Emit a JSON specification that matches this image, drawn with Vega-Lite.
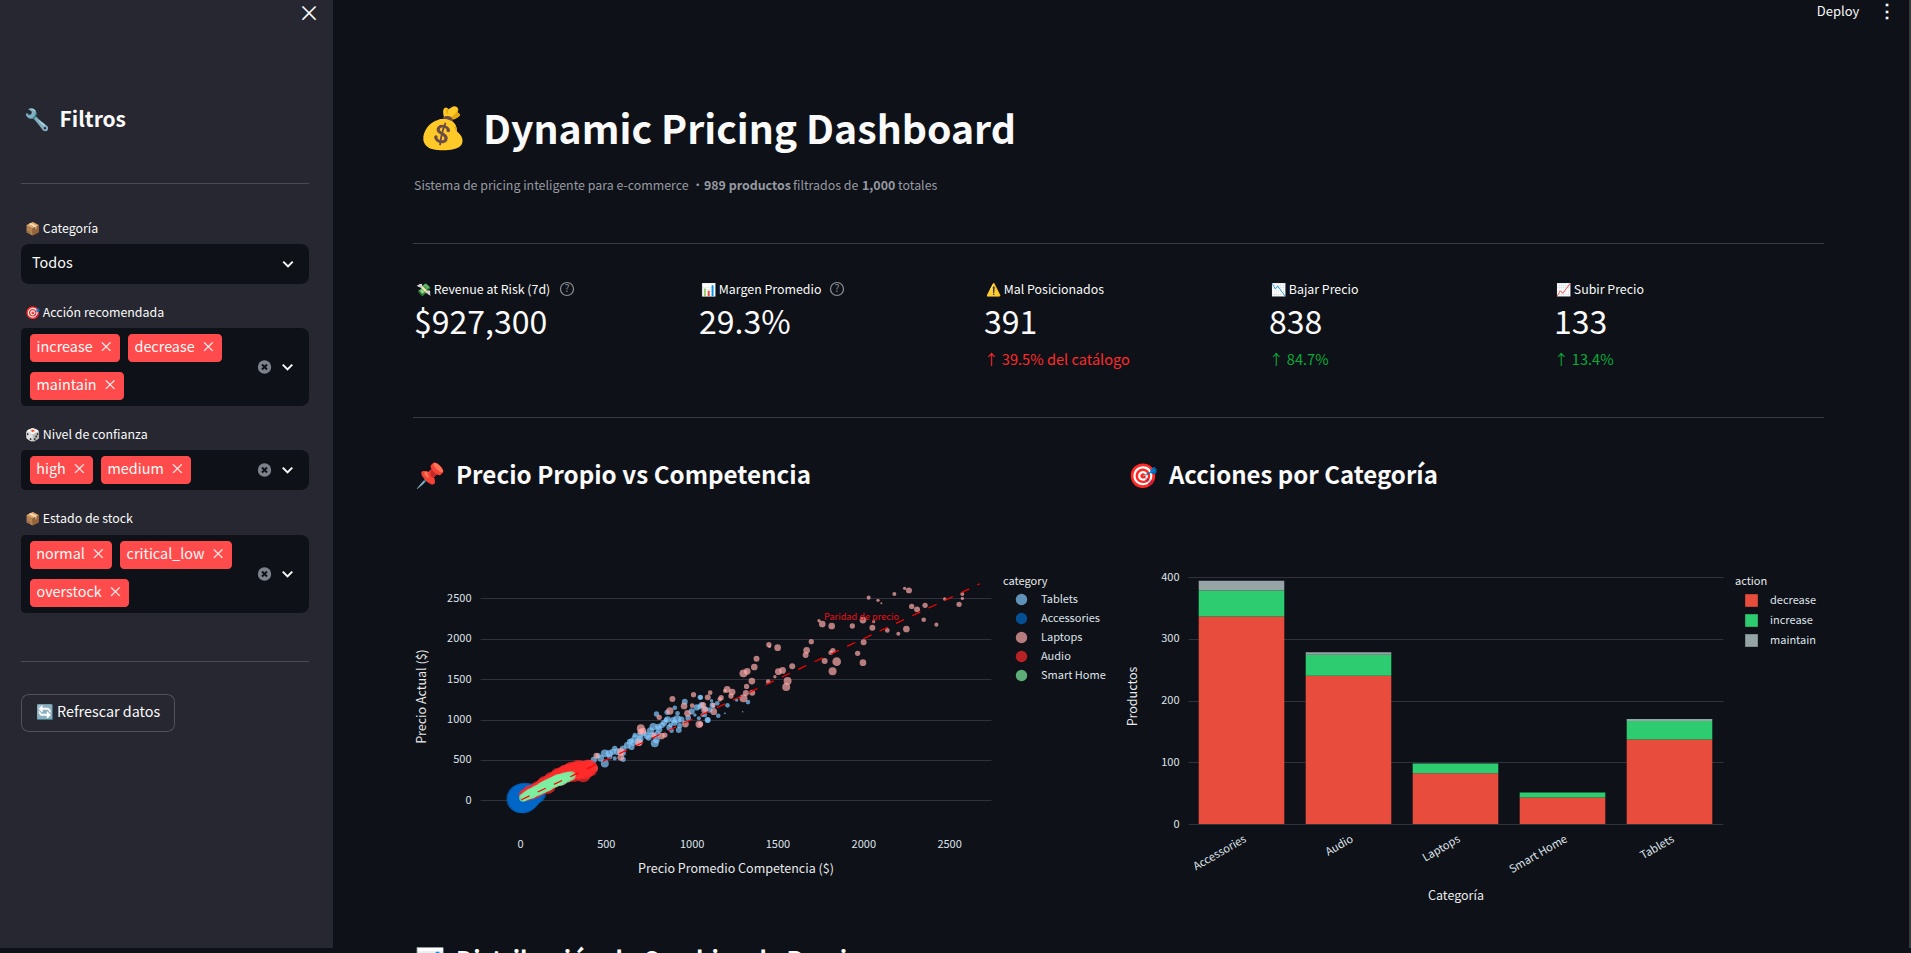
{
"$schema":"https://vega.github.io/schema/vega-lite/v6.json",
"background":"#0e1117",
"padding":0,
"config":{
"view":{"stroke":null,"fill":"#262730"},
"concat":{"spacing":0},
"text":{"font":"Noto Sans CJK SC","fontSize":12.4,"color":"#fafafa"},
"axis":{"labelFont":"Noto Sans CJK SC","titleFont":"Noto Sans CJK SC","labelFontSize":11,"titleFontSize":12.5,"labelColor":"#dfe3ea","titleColor":"#e8eaed","titleFontWeight":"normal","domain":false,"ticks":false,"gridColor":"#30323b","gridOpacity":1},
"legend":{"labelFont":"Noto Sans CJK SC","titleFont":"Noto Sans CJK SC","labelFontSize":11,"titleFontSize":11,"labelColor":"#dfe3ea","titleColor":"#e8eaed","titleFontWeight":"normal"}
},
"vconcat":[
{"hconcat":[
{"vconcat":[
{"hconcat":[
{"width":297,"height":28,"view":{"fill":"#262730"},"data":{"values":[]},"mark":"text"},
{"width":24,"height":28,"view":{"fill":"#262730"},"data":{"values":[{"t":"×"}]},"mark":{"type":"text","fontSize":22},"encoding":{"text":{"field":"t"}}},
{"width":12,"height":28,"view":{"fill":"#262730"},"data":{"values":[]},"mark":"text"}
]},
{"hconcat":[
{"width":21,"height":920,"view":{"fill":"#262730"},"data":{"values":[]},"mark":"text"},
{"vconcat":[
{"width":288,"height":72,"view":{"fill":"#262730"},"data":{"values":[]},"mark":"text"},
{"width":288,"height":40,"view":{"fill":"#262730"},"data":{"values":[{"t":"🔧\u00a0\u00a0Filtros"}]},"mark":{"type":"text","align":"left","dx":3,"dy":1,"fontSize":21,"fontWeight":"bold"},"encoding":{"text":{"field":"t"},"x":{"datum":0,"scale":{"domain":[0,1]},"axis":null}}},
{"width":288,"height":43,"view":{"fill":"#262730"},"data":{"values":[]},"mark":"text"},
{"width":288,"height":1,"view":{"fill":"#4a4b55"},"data":{"values":[]},"mark":"text"},
{"width":288,"height":34,"view":{"fill":"#262730"},"data":{"values":[]},"mark":"text"},
{"width":288,"height":20,"view":{"fill":"#262730"},"data":{"values":[{"t":"📦 Categoría"}]},"mark":{"type":"text","align":"left","dx":4,"dy":1},"encoding":{"text":{"field":"t"},"x":{"datum":0,"scale":{"domain":[0,1]},"axis":null}}},
{"width":288,"height":6,"view":{"fill":"#262730"},"data":{"values":[]},"mark":"text"},
{"width":288,"height":40,"view":{"fill":"#262730"},"data":{"values":[{"t":"Todos"}]},"layer":[
{"mark":{"type":"rect","fill":"#0e1117","cornerRadius":8}},
{"mark":{"type":"text","align":"left","dx":11,"fontSize":14.4},"encoding":{"text":{"field":"t"},"x":{"datum":0,"scale":{"domain":[0,1]},"axis":null}}},
{"mark":{"type":"point","shape":"M-1,-0.5L0,0.5L1,-0.5","filled":false,"stroke":"#fafafa","strokeWidth":2,"size":90,"opacity":1,"xOffset":-21},"encoding":{"x":{"datum":1,"scale":{"domain":[0,1]},"axis":null}}}
]},
{"width":288,"height":18,"view":{"fill":"#262730"},"data":{"values":[]},"mark":"text"},
{"width":288,"height":20,"view":{"fill":"#262730"},"data":{"values":[{"t":"🎯 Acción recomendada"}]},"mark":{"type":"text","align":"left","dx":4,"dy":1},"encoding":{"text":{"field":"t"},"x":{"datum":0,"scale":{"domain":[0,1]},"axis":null}}},
{"width":288,"height":6,"view":{"fill":"#262730"},"data":{"values":[]},"mark":"text"},
{"hconcat":[
{"width":9,"height":78,"view":{"fill":"#262730"},"data":{"values":[{"part":"box"}]},"mark":{"type":"rect","fill":"#0e1117","cornerRadiusTopLeft":8,"cornerRadiusBottomLeft":8}},
{"vconcat":[
{"width":216,"height":6,"view":{"fill":"#0e1117"},"data":{"values":[]},"mark":"text"},
{"hconcat":[
{"width":90,"height":28,"view":{"fill":"#0e1117"},"data":{"values":[{"t":"increase\u00a0\u00a0×"}]},"layer":[{"mark":{"type":"rect","fill":"#ff4b4b","cornerRadius":4}},{"mark":{"type":"text","fontSize":14.4},"encoding":{"text":{"field":"t"}}}]},
{"width":8,"height":28,"view":{"fill":"#0e1117"},"data":{"values":[]},"mark":"text"},
{"width":94,"height":28,"view":{"fill":"#0e1117"},"data":{"values":[{"t":"decrease\u00a0\u00a0×"}]},"layer":[{"mark":{"type":"rect","fill":"#ff4b4b","cornerRadius":4}},{"mark":{"type":"text","fontSize":14.4},"encoding":{"text":{"field":"t"}}}]},
{"width":24,"height":28,"view":{"fill":"#0e1117"},"data":{"values":[]},"mark":"text"}
]},
{"width":216,"height":10,"view":{"fill":"#0e1117"},"data":{"values":[]},"mark":"text"},
{"hconcat":[
{"width":94,"height":28,"view":{"fill":"#0e1117"},"data":{"values":[{"t":"maintain\u00a0\u00a0×"}]},"layer":[{"mark":{"type":"rect","fill":"#ff4b4b","cornerRadius":4}},{"mark":{"type":"text","fontSize":14.4},"encoding":{"text":{"field":"t"}}}]},
{"width":122,"height":28,"view":{"fill":"#0e1117"},"data":{"values":[]},"mark":"text"}
]},
{"width":216,"height":6,"view":{"fill":"#0e1117"},"data":{"values":[]},"mark":"text"}
]},
{"width":63,"height":78,"view":{"fill":"#262730"},"data":{"values":[{"part":"controls"}]},"layer":[
{"mark":{"type":"rect","fill":"#0e1117","cornerRadiusTopRight":8,"cornerRadiusBottomRight":8}},
{"mark":{"type":"circle","fill":"#7d818c","size":180,"opacity":1,"xOffset":-13}},
{"mark":{"type":"point","shape":"M-1,-1L1,1M-1,1L1,-1","filled":false,"stroke":"#0e1117","strokeWidth":2,"size":25,"opacity":1,"xOffset":-13}},
{"mark":{"type":"point","shape":"M-1,-0.5L0,0.5L1,-0.5","filled":false,"stroke":"#fafafa","strokeWidth":2,"size":90,"opacity":1,"xOffset":10}}
]}
]},
{"width":288,"height":18,"view":{"fill":"#262730"},"data":{"values":[]},"mark":"text"},
{"width":288,"height":20,"view":{"fill":"#262730"},"data":{"values":[{"t":"🎲 Nivel de confianza"}]},"mark":{"type":"text","align":"left","dx":4,"dy":1},"encoding":{"text":{"field":"t"},"x":{"datum":0,"scale":{"domain":[0,1]},"axis":null}}},
{"width":288,"height":6,"view":{"fill":"#262730"},"data":{"values":[]},"mark":"text"},
{"hconcat":[
{"width":9,"height":40,"view":{"fill":"#262730"},"data":{"values":[{"part":"box"}]},"mark":{"type":"rect","fill":"#0e1117","cornerRadiusTopLeft":8,"cornerRadiusBottomLeft":8}},
{"vconcat":[
{"width":216,"height":6,"view":{"fill":"#0e1117"},"data":{"values":[]},"mark":"text"},
{"hconcat":[
{"width":63,"height":28,"view":{"fill":"#0e1117"},"data":{"values":[{"t":"high\u00a0\u00a0×"}]},"layer":[{"mark":{"type":"rect","fill":"#ff4b4b","cornerRadius":4}},{"mark":{"type":"text","fontSize":14.4},"encoding":{"text":{"field":"t"}}}]},
{"width":8,"height":28,"view":{"fill":"#0e1117"},"data":{"values":[]},"mark":"text"},
{"width":90,"height":28,"view":{"fill":"#0e1117"},"data":{"values":[{"t":"medium\u00a0\u00a0×"}]},"layer":[{"mark":{"type":"rect","fill":"#ff4b4b","cornerRadius":4}},{"mark":{"type":"text","fontSize":14.4},"encoding":{"text":{"field":"t"}}}]},
{"width":55,"height":28,"view":{"fill":"#0e1117"},"data":{"values":[]},"mark":"text"}
]},
{"width":216,"height":6,"view":{"fill":"#0e1117"},"data":{"values":[]},"mark":"text"}
]},
{"width":63,"height":40,"view":{"fill":"#262730"},"data":{"values":[{"part":"controls"}]},"layer":[
{"mark":{"type":"rect","fill":"#0e1117","cornerRadiusTopRight":8,"cornerRadiusBottomRight":8}},
{"mark":{"type":"circle","fill":"#7d818c","size":180,"opacity":1,"xOffset":-13}},
{"mark":{"type":"point","shape":"M-1,-1L1,1M-1,1L1,-1","filled":false,"stroke":"#0e1117","strokeWidth":2,"size":25,"opacity":1,"xOffset":-13}},
{"mark":{"type":"point","shape":"M-1,-0.5L0,0.5L1,-0.5","filled":false,"stroke":"#fafafa","strokeWidth":2,"size":90,"opacity":1,"xOffset":10}}
]}
]},
{"width":288,"height":18,"view":{"fill":"#262730"},"data":{"values":[]},"mark":"text"},
{"width":288,"height":20,"view":{"fill":"#262730"},"data":{"values":[{"t":"📦 Estado de stock"}]},"mark":{"type":"text","align":"left","dx":4,"dy":1},"encoding":{"text":{"field":"t"},"x":{"datum":0,"scale":{"domain":[0,1]},"axis":null}}},
{"width":288,"height":7,"view":{"fill":"#262730"},"data":{"values":[]},"mark":"text"},
{"hconcat":[
{"width":9,"height":78,"view":{"fill":"#262730"},"data":{"values":[{"part":"box"}]},"mark":{"type":"rect","fill":"#0e1117","cornerRadiusTopLeft":8,"cornerRadiusBottomLeft":8}},
{"vconcat":[
{"width":216,"height":6,"view":{"fill":"#0e1117"},"data":{"values":[]},"mark":"text"},
{"hconcat":[
{"width":82,"height":28,"view":{"fill":"#0e1117"},"data":{"values":[{"t":"normal\u00a0\u00a0×"}]},"layer":[{"mark":{"type":"rect","fill":"#ff4b4b","cornerRadius":4}},{"mark":{"type":"text","fontSize":14.4},"encoding":{"text":{"field":"t"}}}]},
{"width":8,"height":28,"view":{"fill":"#0e1117"},"data":{"values":[]},"mark":"text"},
{"width":112,"height":28,"view":{"fill":"#0e1117"},"data":{"values":[{"t":"critical_low\u00a0\u00a0×"}]},"layer":[{"mark":{"type":"rect","fill":"#ff4b4b","cornerRadius":4}},{"mark":{"type":"text","fontSize":14.4},"encoding":{"text":{"field":"t"}}}]},
{"width":14,"height":28,"view":{"fill":"#0e1117"},"data":{"values":[]},"mark":"text"}
]},
{"width":216,"height":10,"view":{"fill":"#0e1117"},"data":{"values":[]},"mark":"text"},
{"hconcat":[
{"width":99,"height":28,"view":{"fill":"#0e1117"},"data":{"values":[{"t":"overstock\u00a0\u00a0×"}]},"layer":[{"mark":{"type":"rect","fill":"#ff4b4b","cornerRadius":4}},{"mark":{"type":"text","fontSize":14.4},"encoding":{"text":{"field":"t"}}}]},
{"width":117,"height":28,"view":{"fill":"#0e1117"},"data":{"values":[]},"mark":"text"}
]},
{"width":216,"height":6,"view":{"fill":"#0e1117"},"data":{"values":[]},"mark":"text"}
]},
{"width":63,"height":78,"view":{"fill":"#262730"},"data":{"values":[{"part":"controls"}]},"layer":[
{"mark":{"type":"rect","fill":"#0e1117","cornerRadiusTopRight":8,"cornerRadiusBottomRight":8}},
{"mark":{"type":"circle","fill":"#7d818c","size":180,"opacity":1,"xOffset":-13}},
{"mark":{"type":"point","shape":"M-1,-1L1,1M-1,1L1,-1","filled":false,"stroke":"#0e1117","strokeWidth":2,"size":25,"opacity":1,"xOffset":-13}},
{"mark":{"type":"point","shape":"M-1,-0.5L0,0.5L1,-0.5","filled":false,"stroke":"#fafafa","strokeWidth":2,"size":90,"opacity":1,"xOffset":10}}
]}
]},
{"width":288,"height":48,"view":{"fill":"#262730"},"data":{"values":[]},"mark":"text"},
{"width":288,"height":1,"view":{"fill":"#4a4b55"},"data":{"values":[]},"mark":"text"},
{"width":288,"height":32,"view":{"fill":"#262730"},"data":{"values":[]},"mark":"text"},
{"hconcat":[
{"width":154,"height":38,"view":{"fill":"#262730"},"data":{"values":[{"t":"🔄 Refrescar datos"}]},"layer":[
{"mark":{"type":"rect","fill":"#4f515b","cornerRadius":8}},
{"mark":{"type":"rect","fill":"#262730","cornerRadius":7},"encoding":{"x":{"datum":1,"scale":{"domain":[0,154]},"axis":null},"x2":{"datum":153},"y":{"datum":1,"scale":{"domain":[0,38]},"axis":null},"y2":{"datum":37}}},
{"mark":{"type":"text","fontSize":14.4},"encoding":{"text":{"field":"t"}}}
]},
{"width":134,"height":38,"view":{"fill":"#262730"},"data":{"values":[]},"mark":"text"}
]},
{"width":288,"height":216,"view":{"fill":"#262730"},"data":{"values":[]},"mark":"text"}
]},
{"width":24,"height":920,"view":{"fill":"#262730"},"data":{"values":[]},"mark":"text"}
]}
]},
{"width":80,"height":1,"view":{"fill":"#0e1117"},"data":{"values":[]},"mark":"text"},
{"vconcat":[
{"hconcat":[
{"width":1385,"height":24,"view":{"fill":"#0e1117"},"data":{"values":[]},"mark":"text"},
{"width":80,"height":24,"view":{"fill":"#0e1117"},"data":{"values":[{"t":"Deploy"}]},"mark":{"type":"text","fontSize":13},"encoding":{"text":{"field":"t"}}},
{"width":18,"height":24,"view":{"fill":"#0e1117"},"data":{"values":[{"t":"⋮"}]},"mark":{"type":"text","fontSize":18,"fontWeight":"bold"},"encoding":{"text":{"field":"t"}}},
{"width":13,"height":24,"view":{"fill":"#0e1117"},"data":{"values":[]},"mark":"text"}
]},
{"width":1411,"height":76,"view":{"fill":"#0e1117"},"data":{"values":[]},"mark":"text"},
{"hconcat":[
{"width":60,"height":60,"view":{"fill":"#0e1117"},"data":{"values":[{"t":"💰"}]},"mark":{"type":"text","fontSize":40},"encoding":{"text":{"field":"t"}}},
{"width":1351,"height":60,"view":{"fill":"#0e1117"},"data":{"values":[{"t":"Dynamic Pricing Dashboard"}]},"mark":{"type":"text","align":"left","dx":10,"dy":2,"fontSize":39.2,"fontWeight":"bold"},"encoding":{"text":{"field":"t"},"x":{"datum":0,"scale":{"domain":[0,1]},"axis":null}}}
]},
{"hconcat":[
{"width":288,"height":49,"view":{"fill":"#0e1117"},"data":{"values":[{"t":"Sistema de pricing inteligente para e-commerce •"}]},"mark":{"type":"text","align":"left","color":"#969aa2","dx":1,"dy":1},"encoding":{"text":{"field":"t"},"x":{"datum":0,"scale":{"domain":[0,1]},"axis":null}}},
{"width":89,"height":49,"view":{"fill":"#0e1117"},"data":{"values":[{"t":"989 productos"}]},"mark":{"type":"text","align":"left","color":"#969aa2","fontWeight":"bold","dy":1},"encoding":{"text":{"field":"t"},"x":{"datum":0,"scale":{"domain":[0,1]},"axis":null}}},
{"width":69,"height":49,"view":{"fill":"#0e1117"},"data":{"values":[{"t":"filtrados de"}]},"mark":{"type":"text","align":"left","color":"#969aa2","dy":1},"encoding":{"text":{"field":"t"},"x":{"datum":0,"scale":{"domain":[0,1]},"axis":null}}},
{"width":36,"height":49,"view":{"fill":"#0e1117"},"data":{"values":[{"t":"1,000"}]},"mark":{"type":"text","align":"left","color":"#969aa2","fontWeight":"bold","dy":1},"encoding":{"text":{"field":"t"},"x":{"datum":0,"scale":{"domain":[0,1]},"axis":null}}},
{"width":60,"height":49,"view":{"fill":"#0e1117"},"data":{"values":[{"t":"totales"}]},"mark":{"type":"text","align":"left","color":"#969aa2","dy":1},"encoding":{"text":{"field":"t"},"x":{"datum":0,"scale":{"domain":[0,1]},"axis":null}}}
]},
{"width":1411,"height":34,"view":{"fill":"#0e1117"},"data":{"values":[]},"mark":"text"},
{"width":1411,"height":1,"view":{"fill":"#3a3c42"},"data":{"values":[]},"mark":"text"},
{"width":1411,"height":35,"view":{"fill":"#0e1117"},"data":{"values":[]},"mark":"text"},
{"width":1425,"height":20,"view":{"fill":"#0e1117"},"encoding":{"x":{"field":"label","type":"nominal","sort":null,"bandPosition":0,"scale":{"type":"band","paddingInner":0,"paddingOuter":0},"axis":null}},"layer":[
{"data":{"name":"kpis"},"mark":{"type":"text","align":"left","dx":3,"dy":1},"encoding":{"text":{"field":"label"}}},
{"data":{"name":"kpis"},"transform":[{"filter":"datum.label === '💸 Revenue at Risk (7d)'"}],"mark":{"type":"circle","filled":false,"stroke":"#8c8f98","strokeWidth":1.2,"size":170,"xOffset":154,"opacity":1}},
{"data":{"name":"kpis"},"transform":[{"filter":"datum.label === '💸 Revenue at Risk (7d)'"}],"mark":{"type":"text","align":"center","dx":154,"fontSize":10.5,"color":"#8c8f98","text":"?"}},
{"data":{"name":"kpis"},"transform":[{"filter":"datum.label === '📊 Margen Promedio'"}],"mark":{"type":"circle","filled":false,"stroke":"#8c8f98","strokeWidth":1.2,"size":170,"xOffset":139,"opacity":1}},
{"data":{"name":"kpis"},"transform":[{"filter":"datum.label === '📊 Margen Promedio'"}],"mark":{"type":"text","align":"center","dx":139,"fontSize":10.5,"color":"#8c8f98","text":"?"}}
]},
{"width":1425,"height":48,"view":{"fill":"#0e1117"},"data":{"name":"kpis"},"mark":{"type":"text","align":"left","fontSize":32,"dx":1,"dy":1},"encoding":{"text":{"field":"value"},"x":{"field":"label","type":"nominal","sort":null,"bandPosition":0,"scale":{"type":"band","paddingInner":0,"paddingOuter":0},"axis":null}}},
{"width":1425,"height":24,"view":{"fill":"#0e1117"},"data":{"name":"kpis"},"mark":{"type":"text","align":"left","fontSize":14.6,"dx":1,"dy":2},"encoding":{"text":{"field":"delta"},"color":{"condition":{"test":"datum.tone === 'alerta'","value":"#ff2b2b"},"value":"#09ab3b"},"x":{"field":"label","type":"nominal","sort":null,"bandPosition":0,"scale":{"type":"band","paddingInner":0,"paddingOuter":0},"axis":null}}},
{"width":1411,"height":46,"view":{"fill":"#0e1117"},"data":{"values":[]},"mark":"text"},
{"width":1411,"height":1,"view":{"fill":"#3a3c42"},"data":{"values":[]},"mark":"text"},
{"width":1411,"height":37,"view":{"fill":"#0e1117"},"data":{"values":[]},"mark":"text"},
{"hconcat":[
{"width":713,"height":40,"view":{"fill":"#0e1117"},"data":{"values":[{"t":"📌\u00a0\u00a0Precio Propio vs Competencia"}]},"mark":{"type":"text","align":"left","dx":2,"dy":2,"fontSize":24.2,"fontWeight":"bold"},"encoding":{"text":{"field":"t"},"x":{"datum":0,"scale":{"domain":[0,1]},"axis":null}}},
{"width":698,"height":40,"view":{"fill":"#0e1117"},"data":{"values":[{"t":"🎯\u00a0\u00a0Acciones por Categoría"}]},"mark":{"type":"text","align":"left","dx":2,"dy":2,"fontSize":24,"fontWeight":"bold"},"encoding":{"text":{"field":"t"},"x":{"datum":0,"scale":{"domain":[0,1]},"axis":null}}}
]},
{"width":1411,"height":73,"view":{"fill":"#0e1117"},"data":{"values":[]},"mark":"text"},
{"hconcat":[
{"width":2,"height":1,"view":{"fill":"#0e1117"},"data":{"values":[]},"mark":"text"},
{"hconcat":[
{"width":511,"height":256,"view":{"fill":"#0e1117"},
"encoding":{
"x":{"field":"competencia","type":"quantitative","title":"Precio Promedio Competencia ($)","scale":{"domain":[-233,2744],"nice":false},"axis":{"values":[0,500,1000,1500,2000,2500],"format":"d","grid":false,"labelPadding":14,"titlePadding":13}},
"y":{"field":"precio","type":"quantitative","title":"Precio Actual ($)","scale":{"domain":[-293,2875],"nice":false},"axis":{"values":[0,500,1000,1500,2000,2500],"format":"d","labelPadding":9,"titlePadding":18}}
},
"layer":[
{"data":{"values":[
{"category":"Tablets","competencia":1328,"precio":1216,"bubble":17},{"category":"Tablets","competencia":1262,"precio":1241,"bubble":9},{"category":"Tablets","competencia":1209,"precio":1175,"bubble":17},{"category":"Tablets","competencia":1155,"precio":1047,"bubble":17},{"category":"Tablets","competencia":1194,"precio":1076,"bubble":3},{"category":"Tablets","competencia":1297,"precio":1097,"bubble":2},{"category":"Tablets","competencia":1094,"precio":994,"bubble":22},{"category":"Tablets","competencia":1063,"precio":1056,"bubble":13},{"category":"Tablets","competencia":1149,"precio":1200,"bubble":17},{"category":"Tablets","competencia":1116,"precio":1233,"bubble":9},{"category":"Tablets","competencia":1052,"precio":1274,"bubble":17},{"category":"Tablets","competencia":1048,"precio":1159,"bubble":22},
{"category":"Tablets","competencia":960,"precio":1221,"bubble":28},{"category":"Tablets","competencia":902,"precio":1146,"bubble":17},{"category":"Tablets","competencia":795,"precio":1068,"bubble":22},{"category":"Tablets","competencia":857,"precio":1089,"bubble":22},{"category":"Tablets","competencia":918,"precio":1076,"bubble":17},{"category":"Tablets","competencia":916,"precio":1002,"bubble":50},{"category":"Tablets","competencia":892,"precio":994,"bubble":28},{"category":"Tablets","competencia":850,"precio":994,"bubble":17},{"category":"Tablets","competencia":828,"precio":932,"bubble":28},{"category":"Tablets","competencia":776,"precio":911,"bubble":42},{"category":"Tablets","competencia":805,"precio":911,"bubble":28},{"category":"Tablets","competencia":877,"precio":932,"bubble":17},{"category":"Tablets","competencia":931,"precio":924,"bubble":22},{"category":"Tablets","competencia":925,"precio":870,"bubble":28},{"category":"Tablets","competencia":883,"precio":862,"bubble":17},{"category":"Tablets","competencia":785,"precio":705,"bubble":50},{"category":"Tablets","competencia":795,"precio":746,"bubble":35},{"category":"Tablets","competencia":772,"precio":808,"bubble":28},{"category":"Tablets","competencia":669,"precio":767,"bubble":35},{"category":"Tablets","competencia":649,"precio":734,"bubble":22},{"category":"Tablets","competencia":698,"precio":808,"bubble":28},{"category":"Tablets","competencia":659,"precio":705,"bubble":22},{"category":"Tablets","competencia":1050,"precio":1274,"bubble":22},{"category":"Tablets","competencia":1058,"precio":1180,"bubble":28},{"category":"Tablets","competencia":1093,"precio":994,"bubble":28},{"category":"Tablets","competencia":1042,"precio":1015,"bubble":13},{"category":"Tablets","competencia":1019,"precio":1056,"bubble":9},{"category":"Tablets","competencia":1106,"precio":1118,"bubble":22},{"category":"Tablets","competencia":1077,"precio":1056,"bubble":17},{"category":"Tablets","competencia":1126,"precio":1159,"bubble":13},
{"category":"Tablets","competencia":640,"precio":726,"bubble":28},{"category":"Tablets","competencia":669,"precio":808,"bubble":17},{"category":"Tablets","competencia":552,"precio":643,"bubble":22},{"category":"Tablets","competencia":494,"precio":581,"bubble":50},{"category":"Tablets","competencia":455,"precio":552,"bubble":22},{"category":"Tablets","competencia":523,"precio":540,"bubble":22},{"category":"Tablets","competencia":494,"precio":457,"bubble":50},{"category":"Tablets","competencia":406,"precio":457,"bubble":35},{"category":"Tablets","competencia":368,"precio":457,"bubble":17},{"category":"Tablets","competencia":601,"precio":507,"bubble":22},{"category":"Tablets","competencia":552,"precio":519,"bubble":13},{"category":"Tablets","competencia":568,"precio":602,"bubble":35},{"category":"Tablets","competencia":692,"precio":726,"bubble":50},
{"category":"Tablets","competencia":520,"precio":580,"bubble":40},{"category":"Tablets","competencia":540,"precio":600,"bubble":30},{"category":"Tablets","competencia":600,"precio":640,"bubble":30},{"category":"Tablets","competencia":625,"precio":680,"bubble":35},{"category":"Tablets","competencia":720,"precio":830,"bubble":30},{"category":"Tablets","competencia":740,"precio":800,"bubble":35},{"category":"Tablets","competencia":760,"precio":860,"bubble":40},{"category":"Tablets","competencia":810,"precio":880,"bubble":35},{"category":"Tablets","competencia":840,"precio":960,"bubble":30},{"category":"Tablets","competencia":860,"precio":1000,"bubble":35},{"category":"Tablets","competencia":900,"precio":960,"bubble":30},{"category":"Tablets","competencia":940,"precio":1000,"bubble":30},{"category":"Tablets","competencia":980,"precio":1020,"bubble":25},{"category":"Tablets","competencia":1000,"precio":1100,"bubble":30},{"category":"Tablets","competencia":1030,"precio":1150,"bubble":30},{"category":"Tablets","competencia":1080,"precio":1130,"bubble":25},{"category":"Tablets","competencia":1120,"precio":1180,"bubble":22},{"category":"Tablets","competencia":470,"precio":520,"bubble":35},{"category":"Tablets","competencia":430,"precio":500,"bubble":30},{"category":"Tablets","competencia":600,"precio":585,"bubble":28},{"category":"Tablets","competencia":650,"precio":660,"bubble":30},{"category":"Tablets","competencia":700,"precio":760,"bubble":35},{"category":"Tablets","competencia":750,"precio":775,"bubble":28},{"category":"Tablets","competencia":800,"precio":820,"bubble":32},{"category":"Tablets","competencia":870,"precio":900,"bubble":30},
{"category":"Accessories","competencia":4,"precio":20,"bubble":645},{"category":"Accessories","competencia":24,"precio":45,"bubble":616},{"category":"Accessories","competencia":57,"precio":66,"bubble":428},{"category":"Accessories","competencia":95,"precio":86,"bubble":314},{"category":"Accessories","competencia":47,"precio":24,"bubble":428},{"category":"Accessories","competencia":8,"precio":15,"bubble":600},{"category":"Accessories","competencia":14,"precio":30,"bubble":620},{"category":"Accessories","competencia":30,"precio":25,"bubble":560},{"category":"Accessories","competencia":40,"precio":50,"bubble":520},{"category":"Accessories","competencia":20,"precio":10,"bubble":600},{"category":"Accessories","competencia":66,"precio":60,"bubble":380},{"category":"Accessories","competencia":80,"precio":75,"bubble":340},{"category":"Accessories","competencia":35,"precio":35,"bubble":560},
{"category":"Laptops","competencia":2266,"precio":2598,"bubble":28},{"category":"Laptops","competencia":2241,"precio":2623,"bubble":9},{"category":"Laptops","competencia":2181,"precio":2553,"bubble":13},{"category":"Laptops","competencia":2031,"precio":2508,"bubble":13},{"category":"Laptops","competencia":2086,"precio":2475,"bubble":9},{"category":"Laptops","competencia":2105,"precio":2438,"bubble":3},{"category":"Laptops","competencia":2282,"precio":2400,"bubble":22},{"category":"Laptops","competencia":2313,"precio":2363,"bubble":28},{"category":"Laptops","competencia":2360,"precio":2413,"bubble":22},{"category":"Laptops","competencia":2474,"precio":2491,"bubble":9},{"category":"Laptops","competencia":2577,"precio":2553,"bubble":13},{"category":"Laptops","competencia":2577,"precio":2499,"bubble":9},{"category":"Laptops","competencia":2558,"precio":2425,"bubble":22},{"category":"Laptops","competencia":2352,"precio":2235,"bubble":17},{"category":"Laptops","competencia":2426,"precio":2174,"bubble":13},{"category":"Laptops","competencia":2251,"precio":2120,"bubble":35},{"category":"Laptops","competencia":2204,"precio":2062,"bubble":13},{"category":"Laptops","competencia":2140,"precio":2103,"bubble":17},{"category":"Laptops","competencia":2053,"precio":2136,"bubble":28},{"category":"Laptops","competencia":2060,"precio":2211,"bubble":9},{"category":"Laptops","competencia":1998,"precio":2231,"bubble":35},{"category":"Laptops","competencia":1936,"precio":2157,"bubble":22},{"category":"Laptops","competencia":1816,"precio":2157,"bubble":35},{"category":"Laptops","competencia":1761,"precio":2182,"bubble":35},{"category":"Laptops","competencia":1742,"precio":2223,"bubble":9},{"category":"Laptops","competencia":1697,"precio":1963,"bubble":22},{"category":"Laptops","competencia":2002,"precio":1955,"bubble":28},{"category":"Laptops","competencia":1967,"precio":1819,"bubble":22},{"category":"Laptops","competencia":1998,"precio":1703,"bubble":35},{"category":"Laptops","competencia":1845,"precio":1716,"bubble":59},{"category":"Laptops","competencia":1821,"precio":1596,"bubble":50},{"category":"Laptops","competencia":1775,"precio":1724,"bubble":28},{"category":"Laptops","competencia":1823,"precio":1852,"bubble":22},{"category":"Laptops","competencia":1810,"precio":1827,"bubble":17},{"category":"Laptops","competencia":1670,"precio":1856,"bubble":35},{"category":"Laptops","competencia":1664,"precio":1798,"bubble":28},{"category":"Laptops","competencia":1586,"precio":1658,"bubble":28},{"category":"Laptops","competencia":1530,"precio":1608,"bubble":35},{"category":"Laptops","competencia":1505,"precio":1592,"bubble":35},{"category":"Laptops","competencia":1485,"precio":1530,"bubble":9},{"category":"Laptops","competencia":1450,"precio":1926,"bubble":22},{"category":"Laptops","competencia":1454,"precio":1901,"bubble":6},{"category":"Laptops","competencia":1501,"precio":1889,"bubble":35},{"category":"Laptops","competencia":1378,"precio":1753,"bubble":28},{"category":"Laptops","competencia":1365,"precio":1650,"bubble":35},{"category":"Laptops","competencia":1324,"precio":1596,"bubble":35},{"category":"Laptops","competencia":1302,"precio":1571,"bubble":50},{"category":"Laptops","competencia":1351,"precio":1476,"bubble":35},{"category":"Laptops","competencia":1559,"precio":1476,"bubble":50},{"category":"Laptops","competencia":1551,"precio":1402,"bubble":50},{"category":"Laptops","competencia":1446,"precio":1468,"bubble":17},{"category":"Laptops","competencia":1320,"precio":1410,"bubble":22},{"category":"Laptops","competencia":1353,"precio":1332,"bubble":28},{"category":"Laptops","competencia":1316,"precio":1328,"bubble":28},{"category":"Laptops","competencia":1302,"precio":1262,"bubble":50},{"category":"Laptops","competencia":1236,"precio":1340,"bubble":35},{"category":"Laptops","competencia":1207,"precio":1373,"bubble":35},{"category":"Laptops","competencia":1194,"precio":1353,"bubble":13},{"category":"Laptops","competencia":1229,"precio":1291,"bubble":22},{"category":"Laptops","competencia":1172,"precio":1270,"bubble":22},{"category":"Laptops","competencia":1164,"precio":1250,"bubble":17},{"category":"Laptops","competencia":1108,"precio":1332,"bubble":17},{"category":"Laptops","competencia":1094,"precio":1274,"bubble":28},{"category":"Laptops","competencia":1129,"precio":1097,"bubble":35},{"category":"Laptops","competencia":1126,"precio":1179,"bubble":17},{"category":"Laptops","competencia":1067,"precio":1179,"bubble":28},{"category":"Laptops","competencia":1075,"precio":1118,"bubble":35},{"category":"Laptops","competencia":1052,"precio":944,"bubble":22},
{"category":"Laptops","competencia":888,"precio":1254,"bubble":28},{"category":"Laptops","competencia":1011,"precio":1307,"bubble":22},{"category":"Laptops","competencia":956,"precio":1167,"bubble":35},{"category":"Laptops","competencia":1003,"precio":1171,"bubble":17},{"category":"Laptops","competencia":873,"precio":1105,"bubble":42},{"category":"Laptops","competencia":976,"precio":1076,"bubble":35},{"category":"Laptops","competencia":1044,"precio":940,"bubble":42},{"category":"Laptops","competencia":964,"precio":944,"bubble":35},{"category":"Laptops","competencia":811,"precio":1027,"bubble":22},{"category":"Laptops","competencia":704,"precio":891,"bubble":50},{"category":"Laptops","competencia":717,"precio":858,"bubble":35},{"category":"Laptops","competencia":692,"precio":713,"bubble":35},{"category":"Laptops","competencia":780,"precio":804,"bubble":22},{"category":"Laptops","competencia":824,"precio":796,"bubble":35},{"category":"Laptops","competencia":844,"precio":808,"bubble":22},{"category":"Laptops","competencia":587,"precio":602,"bubble":42},{"category":"Laptops","competencia":587,"precio":532,"bubble":35},{"category":"Laptops","competencia":445,"precio":552,"bubble":28},{"category":"Laptops","competencia":702,"precio":849,"bubble":28},{"category":"Laptops","competencia":436,"precio":396,"bubble":28},
{"category":"Audio","competencia":27,"precio":66,"bubble":113},{"category":"Audio","competencia":57,"precio":107,"bubble":140},{"category":"Audio","competencia":105,"precio":148,"bubble":169},{"category":"Audio","competencia":144,"precio":210,"bubble":169},{"category":"Audio","competencia":183,"precio":251,"bubble":201},{"category":"Audio","competencia":222,"precio":313,"bubble":169},{"category":"Audio","competencia":261,"precio":334,"bubble":218},{"category":"Audio","competencia":300,"precio":375,"bubble":218},{"category":"Audio","competencia":338,"precio":383,"bubble":274},{"category":"Audio","competencia":377,"precio":375,"bubble":274},{"category":"Audio","competencia":406,"precio":396,"bubble":218},{"category":"Audio","competencia":319,"precio":334,"bubble":218},{"category":"Audio","competencia":241,"precio":272,"bubble":169},{"category":"Audio","competencia":163,"precio":169,"bubble":169},{"category":"Audio","competencia":86,"precio":107,"bubble":140},{"category":"Audio","competencia":290,"precio":313,"bubble":169},{"category":"Audio","competencia":368,"precio":313,"bubble":169},
{"category":"Audio","competencia":40,"precio":70,"bubble":130},{"category":"Audio","competencia":70,"precio":95,"bubble":150},{"category":"Audio","competencia":95,"precio":125,"bubble":160},{"category":"Audio","competencia":120,"precio":150,"bubble":170},{"category":"Audio","competencia":135,"precio":185,"bubble":170},{"category":"Audio","competencia":155,"precio":195,"bubble":180},{"category":"Audio","competencia":175,"precio":225,"bubble":190},{"category":"Audio","competencia":200,"precio":250,"bubble":190},{"category":"Audio","competencia":215,"precio":280,"bubble":195},{"category":"Audio","competencia":235,"precio":295,"bubble":200},{"category":"Audio","competencia":250,"precio":315,"bubble":205},{"category":"Audio","competencia":270,"precio":340,"bubble":215},{"category":"Audio","competencia":285,"precio":350,"bubble":215},{"category":"Audio","competencia":310,"precio":360,"bubble":225},{"category":"Audio","competencia":330,"precio":370,"bubble":250},{"category":"Audio","competencia":350,"precio":380,"bubble":265},{"category":"Audio","competencia":395,"precio":400,"bubble":230},
{"category":"Smart Home","competencia":18,"precio":33,"bubble":50},{"category":"Smart Home","competencia":47,"precio":66,"bubble":68},{"category":"Smart Home","competencia":86,"precio":107,"bubble":79},{"category":"Smart Home","competencia":125,"precio":148,"bubble":101},{"category":"Smart Home","competencia":163,"precio":189,"bubble":113},{"category":"Smart Home","competencia":202,"precio":231,"bubble":101},{"category":"Smart Home","competencia":241,"precio":259,"bubble":113},{"category":"Smart Home","competencia":270,"precio":284,"bubble":89},{"category":"Smart Home","competencia":300,"precio":305,"bubble":59},{"category":"Smart Home","competencia":66,"precio":86,"bubble":89},{"category":"Smart Home","competencia":144,"precio":177,"bubble":89},{"category":"Smart Home","competencia":222,"precio":251,"bubble":113},
{"category":"Smart Home","competencia":25,"precio":40,"bubble":55},{"category":"Smart Home","competencia":35,"precio":55,"bubble":65},{"category":"Smart Home","competencia":55,"precio":75,"bubble":75},{"category":"Smart Home","competencia":75,"precio":95,"bubble":85},{"category":"Smart Home","competencia":95,"precio":120,"bubble":90},{"category":"Smart Home","competencia":110,"precio":130,"bubble":95},{"category":"Smart Home","competencia":135,"precio":160,"bubble":105},{"category":"Smart Home","competencia":155,"precio":180,"bubble":110},{"category":"Smart Home","competencia":175,"precio":205,"bubble":105},{"category":"Smart Home","competencia":190,"precio":220,"bubble":105},{"category":"Smart Home","competencia":210,"precio":240,"bubble":105},{"category":"Smart Home","competencia":230,"precio":250,"bubble":105},{"category":"Smart Home","competencia":255,"precio":275,"bubble":95},{"category":"Smart Home","competencia":285,"precio":295,"bubble":75}
]},
"mark":{"type":"circle","opacity":0.7},
"encoding":{
"color":{"field":"category","type":"nominal","scale":{"domain":["Tablets","Accessories","Laptops","Audio","Smart Home"],"range":["#83c9ff","#0068c9","#ffabab","#ff2b2b","#7defa1"]},"legend":{"title":"category","orient":"right","offset":4,"padding":8,"symbolType":"circle","symbolSize":130,"symbolOffset":12,"labelOffset":13,"rowPadding":6,"titlePadding":6}},
"size":{"field":"bubble","type":"quantitative","scale":{"domain":[0,700],"range":[0,892]},"legend":null}
}},
{"data":{"values":[{"competencia":8,"precio":8},{"competencia":2680,"precio":2680}]},"mark":{"type":"line","color":"#ff0000","strokeWidth":1.2,"strokeDash":[9,9]}},
{"data":{"values":[{"competencia":1990,"precio":2272,"nota":"Paridad de precio"}]},"mark":{"type":"text","fontSize":9.2,"color":"#e8101a"},"encoding":{"text":{"field":"nota"}}}
]},
{"width":535,"height":256,"view":{"fill":"#0e1117"},
"data":{"values":[
{"categoria":"Accessories","action":"decrease","productos":336},{"categoria":"Accessories","action":"increase","productos":42},{"categoria":"Accessories","action":"maintain","productos":16},
{"categoria":"Audio","action":"decrease","productos":240},{"categoria":"Audio","action":"increase","productos":34},{"categoria":"Audio","action":"maintain","productos":4},
{"categoria":"Laptops","action":"decrease","productos":82},{"categoria":"Laptops","action":"increase","productos":16},
{"categoria":"Smart Home","action":"decrease","productos":43},{"categoria":"Smart Home","action":"increase","productos":8},
{"categoria":"Tablets","action":"decrease","productos":137},{"categoria":"Tablets","action":"increase","productos":30},{"categoria":"Tablets","action":"maintain","productos":3}
]},
"mark":"bar",
"encoding":{
"x":{"field":"categoria","type":"nominal","title":"Categoría","scale":{"paddingInner":0.2,"paddingOuter":0.1},"axis":{"labelAngle":-30,"labelAlign":"right","labelBaseline":"middle","labelPadding":14,"labelOffset":4,"titlePadding":15,"grid":false}},
"y":{"field":"productos","type":"quantitative","aggregate":"sum","title":"Productos","scale":{"domain":[0,414.6],"nice":false},"axis":{"values":[0,100,200,300,400],"labelPadding":9,"titlePadding":21}},
"color":{"field":"action","type":"nominal","scale":{"domain":["decrease","increase","maintain"],"range":["#e74c3c","#2ecc71","#95a5a6"]},"legend":{"title":"action","orient":"right","offset":4,"padding":8,"symbolType":"square","symbolSize":160,"symbolOffset":9,"labelOffset":11,"rowPadding":6,"titlePadding":6}},
"order":{"field":"action","sort":"ascending"}
}}
],"bounds":"flush","spacing":197,"resolve":{"scale":{"color":"independent"}}}
]},
{"width":1411,"height":38,"view":{"fill":"#0e1117"},"data":{"values":[]},"mark":"text"},
{"width":1411,"height":18,"view":{"fill":"#0e1117"},"data":{"values":[{"t":"📊\u00a0\u00a0Distribución de Cambios de Precio"}]},"mark":{"type":"text","align":"left","baseline":"top","clip":true,"dx":2,"fontSize":24.2,"fontWeight":"bold"},"encoding":{"text":{"field":"t"},"x":{"datum":0,"scale":{"domain":[0,1]},"axis":null}}}
]},
{"width":2,"height":948,"view":{"fill":"#3a3a3e"},"data":{"values":[]},"mark":"text"}
]},
{"width":1911,"height":5,"view":{"fill":"#3d3d3f"},"data":{"values":[]},"mark":"text"}
],
"datasets":{"kpis":[
{"label":"💸 Revenue at Risk (7d)","value":"$927,300","delta":"","tone":"alerta"},
{"label":"📊 Margen Promedio","value":"29.3%","delta":"","tone":"alerta"},
{"label":"⚠️ Mal Posicionados","value":"391","delta":"↑ 39.5% del catálogo","tone":"alerta"},
{"label":"📉 Bajar Precio","value":"838","delta":"↑ 84.7%","tone":"positivo"},
{"label":"📈 Subir Precio","value":"133","delta":"↑ 13.4%","tone":"positivo"}
]}
}
